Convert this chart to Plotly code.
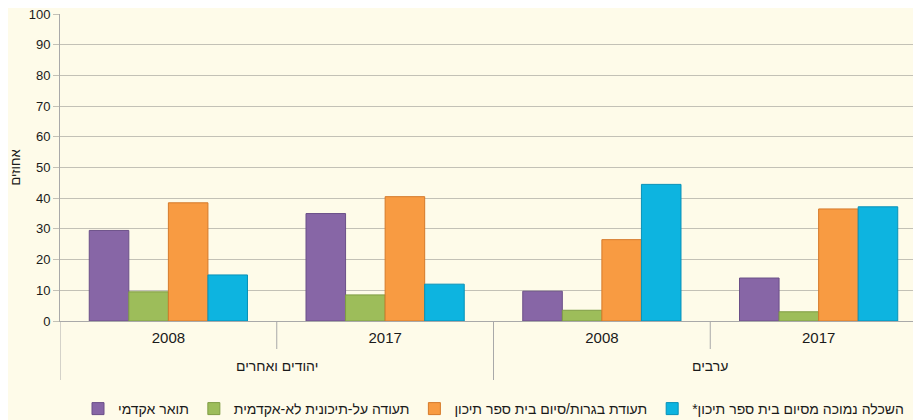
import plotly.graph_objects as go

# population groups (outer level) and years (inner level)
groups = ["יהודים ואחרים", "יהודים ואחרים", "ערבים", "ערבים"]
years = ["2008", "2017", "2008", "2017"]

series_names = [
    "תואר אקדמי",
    "תעודה על-תיכונית לא-אקדמית",
    "תעודת בגרות/סיום בית ספר תיכון",
    "השכלה נמוכה מסיום בית ספר תיכון*\u200f",
]
academic = [29.5, 35, 9.7, 14]
post_secondary = [9.5, 8.5, 3.5, 3]
matriculation = [38.5, 40.5, 26.5, 36.5]
below_high_school = [15, 12, 44.5, 37.2]

series_values = [academic, post_secondary, matriculation, below_high_school]
colors = ["#8766a6", "#9dbd5a", "#f89b42", "#0db4e0"]
edge_colors = ["#6b4f88", "#7f9c44", "#d57a2a", "#0791b8"]

keys = [g + " " + y for g, y in zip(groups, years)]

fig = go.Figure()
for name, vals, col, edge in zip(series_names, series_values, colors, edge_colors):
    fig.add_trace(go.Bar(
        x=keys, y=vals, name=name,
        marker=dict(color=col, line=dict(color=edge, width=1)),
    ))

line_col = "#a9a9a9"
grid = "#c3c1b6"
W, H = 921, 420
ml, mt, mb, mr = 52, 6, 107, 2   # page body adds an 8px offset
plot_h = H - mt - mb

# dividers below the axis: short between years, long between population groups
n = len(keys)
for k in range(n + 1):
    long_div = k == 0 or k == n or groups[k] != groups[k - 1]
    depth = 59 if long_div else 28
    fig.add_shape(type="line", xref="x", yref="paper",
                  x0=k - 0.5, x1=k - 0.5, y0=0, y1=-depth / plot_h,
                  line=dict(color=line_col, width=1))

# group labels centred under their years
for g in dict.fromkeys(groups):
    idx = [i for i, gg in enumerate(groups) if gg == g]
    fig.add_annotation(x=sum(idx) / len(idx), xref="x", y=-45 / plot_h, yref="paper",
                       text=g, showarrow=False, yanchor="middle",
                       font=dict(size=14, color="#1a1a1a"))

fig.update_layout(
    width=W, height=H,
    margin=dict(l=ml, r=mr, t=mt, b=mb, autoexpand=False),
    paper_bgcolor="#fefbe9", plot_bgcolor="#fefbe9",
    barmode="group", bargap=0.27, bargroupgap=0,
    font=dict(family="Liberation Sans, Arial, sans-serif", color="#1a1a1a"),
    showlegend=True,
    legend=dict(
        orientation="h", xref="container", yref="container",
        x=70 / W, xanchor="left", y=1 - 385 / H, yanchor="top",
        font=dict(size=14), bgcolor="rgba(0,0,0,0)",
    ),
)
fig.update_xaxes(
    type="category", range=[-0.5, 3.5], automargin=False,
    tickvals=keys, ticktext=years, ticks="", ticklabelstandoff=3,
    showline=True, linecolor=line_col, linewidth=1,
    tickfont=dict(size=15), showgrid=False,
)
fig.update_yaxes(
    range=[0, 100], dtick=10, automargin=False,
    showgrid=True, gridcolor=grid, gridwidth=1,
    showline=True, linecolor=line_col,
    ticks="outside", ticklen=6, tickcolor=grid,
    tickfont=dict(size=13), ticklabeloverflow="allow",
    title=dict(text="אחוזים", font=dict(size=13), standoff=25),
    zeroline=False,
)

fig.write_html("out.html")
